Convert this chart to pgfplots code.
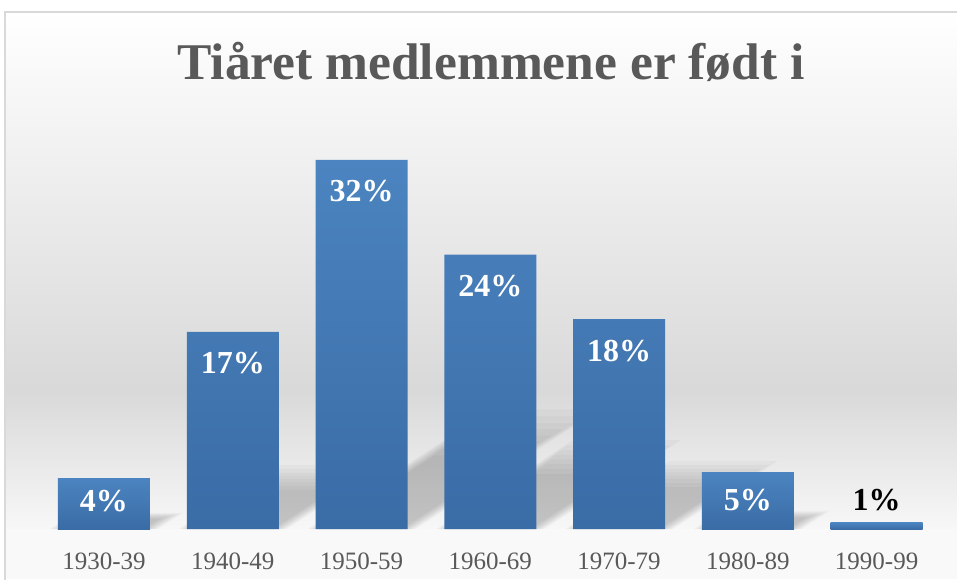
\documentclass[border=0pt]{standalone}
\usepackage{pgfplots}
\pgfplotsset{compat=1.18}
\usepackage{fontspec}
\setmainfont{Liberation Serif}
\definecolor{barTop}{RGB}{75,132,192}
\definecolor{barBot}{RGB}{58,108,166}
\definecolor{txtgrey}{RGB}{89,89,89}
\definecolor{frame}{RGB}{217,217,217}
\begin{document}
\begin{tikzpicture}
\path[use as bounding box] (0pt,0pt) rectangle (957pt,579pt);
\fill[white] (0pt,0pt) rectangle (957pt,579pt);
\shade[top color=white, bottom color=black!15] (5pt,189pt) rectangle (957pt,567pt);
\shade[top color=black!15, bottom color=black!3] (5pt,50pt) rectangle (957pt,189pt);
\fill[black!2.5] (5pt,0pt) rectangle (957pt,50pt);
\draw[frame, line width=1.5pt] (5pt,-2pt) -- (5pt,567pt) -- (960pt,567pt);
% soft perspective shadows (decoration behind the bars)
\begin{scope}[x=1pt,y=1pt]
\foreach \i/\v in {0/4.4, 1/17.1, 2/32, 3/23.8, 4/18.2, 5/4.9}{
  \pgfmathsetmacro{\cx}{39.6+(\i+0.5)*128.77}
  \pgfmathsetmacro{\t}{0.27*11.53*\v}
  \pgfmathsetmacro{\s}{\t/0.65}
  \foreach \f/\d in {1.20/8, 1.13/6, 1.06/4, 1.0/2, 0.94/0, 0.88/-2, 0.81/-4, 0.74/-6}{
    \fill[black, opacity=0.026] ({\cx-46-\d},50) -- ({\cx+46+\d},50)
      -- ({\cx+46+\d+\s*\f},{50+\t*\f}) -- ({\cx-46-\d+\s*\f},{50+\t*\f}) -- cycle;
  }
}
\end{scope}
\node[anchor=base, font=\bfseries\fontsize{51.5}{60}\selectfont, text=txtgrey] at (491pt,499pt) {Tiåret medlemmene er født i};
\begin{axis}[
  at={(39.6pt,50pt)}, anchor=south west,
  scale only axis, width=901.4pt, height=403.6pt,
  xmin=-0.5, xmax=6.5, ymin=0, ymax=35,
  ybar, bar width=92pt,
  axis line style={draw=none}, tick style={draw=none},
  ytick=\empty,
  xtick={0,1,2,3,4,5,6},
  xticklabels={1930-39,1940-49,1950-59,1960-69,1970-79,1980-89,1990-99},
  xticklabel style={anchor=base, yshift=-36pt, text=txtgrey, font=\fontsize{25}{30}\selectfont},
  clip=false,
  every axis plot/.append style={ybar, bar shift=0pt, draw=none, top color=barTop, bottom color=barBot,
    nodes near coords, point meta=explicit symbolic},
  labstyle/.style={every node near coord/.append style={anchor=base, yshift=#1, text=white, font=\bfseries\fontsize{32}{36}\selectfont}},
]
\addplot[labstyle=-42pt] coordinates {(1,17.1)[17\%] (2,32)[32\%] (3,23.8)[24\%] (4,18.2)[18\%]};
\addplot[labstyle=-33pt] coordinates {(0,4.4)[4\%]};
\addplot[labstyle=-38pt] coordinates {(5,4.9)[5\%]};
\addplot[labstyle=12pt, every node near coord/.append style={text=black}] coordinates {(6,0.55)[1\%]};
\end{axis}
\end{tikzpicture}
\end{document}
